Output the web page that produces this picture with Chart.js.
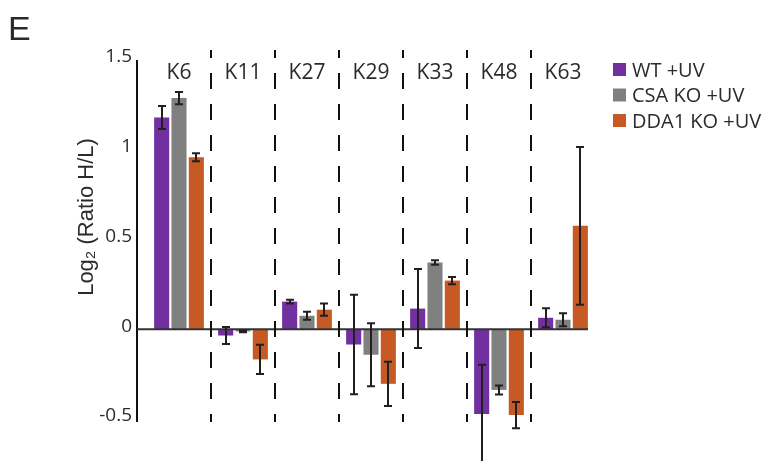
<!DOCTYPE html>
<html>
<head>
<meta charset="utf-8">
<script src="https://cdn.jsdelivr.net/npm/chart.js@4"></script>
<style>
  html, body { margin: 0; padding: 0; background: #fff; }
  #wrap { width: 771px; height: 461px; }
</style>
</head>
<body>
<div id="wrap"><canvas id="myBarChart"></canvas></div>
<script>
const sites = ['K6', 'K11', 'K27', 'K29', 'K33', 'K48', 'K63'];
const seriesNames = ['WT +UV', 'CSA KO +UV', 'DDA1 KO +UV'];
const seriesColors = ['#7030A0', '#808080', '#C55A24'];

const wtValues = [1.18, -0.035, 0.154, -0.085, 0.115, -0.472, 0.064];
const wtErrors = [0.064, 0.047, 0.010, 0.277, 0.220, 0.274, 0.053];
const csaValues = [1.288, -0.012, 0.075, -0.142, 0.372, -0.338, 0.053];
const csaErrors = [0.034, 0.005, 0.022, 0.176, 0.012, 0.025, 0.036];
const ddaValues = [0.958, -0.168, 0.109, -0.304, 0.271, -0.478, 0.576];
const ddaErrors = [0.022, 0.081, 0.034, 0.123, 0.020, 0.073, 0.440];

const yTicks = [-0.5, 0, 0.5, 1, 1.5];

const font = '"Open Sans", "Noto Sans", sans-serif';
const arial = '"Liberation Sans", Arial, sans-serif';
const textColor = '#2b2b2b';

const allValues = [wtValues, csaValues, ddaValues];
const allErrors = [wtErrors, csaErrors, ddaErrors];

// error bars, dividers, labels and legend drawn on top of the bars
const decorations = {
    id: 'decorations',
    afterDraw(chart) {
        const c = chart.ctx;
        const x = chart.scales.x;
        const y = chart.scales.y;
        const area = chart.chartArea;
        const axisX = area.left - 10;
        const y0 = y.getPixelForValue(0);

        c.save();

        // y axis line
        c.strokeStyle = '#111';
        c.lineWidth = 2;
        c.beginPath();
        c.moveTo(axisX, area.top);
        c.lineTo(axisX, area.bottom + 3);
        c.stroke();

        // zero line
        c.strokeStyle = '#333';
        c.beginPath();
        c.moveTo(axisX, y0);
        c.lineTo(area.right - 7, y0);
        c.stroke();

        // dashed dividers between sites
        c.strokeStyle = '#111';
        c.setLineDash([16, 15]);
        c.lineDashOffset = 8;
        for (let i = 0; i < sites.length - 1; i++) {
            const px = Math.round((x.getPixelForValue(i) + x.getPixelForValue(i + 1)) / 2);
            c.beginPath();
            c.moveTo(px, area.top - 10);
            c.lineTo(px, area.bottom + 3);
            c.stroke();
        }
        c.setLineDash([]);

        // error bars
        c.strokeStyle = '#231f20';
        c.lineWidth = 2;
        allValues.forEach((vals, d) => {
            const meta = chart.getDatasetMeta(d);
            meta.data.forEach((bar, i) => {
                const hi = y.getPixelForValue(vals[i] + allErrors[d][i]);
                const lo = y.getPixelForValue(vals[i] - allErrors[d][i]);
                const bx = Math.round(bar.x);
                c.beginPath();
                c.moveTo(bx, hi);
                c.lineTo(bx, lo);
                c.moveTo(bx - 4, hi);
                c.lineTo(bx + 4, hi);
                c.moveTo(bx - 4, lo);
                c.lineTo(bx + 4, lo);
                c.stroke();
            });
        });

        // site labels
        c.fillStyle = textColor;
        c.font = '21px ' + font;
        c.textAlign = 'center';
        c.textBaseline = 'middle';
        sites.forEach((s, i) => {
            c.fillText(s, x.getPixelForValue(i), area.top + 13);
        });

        // legend
        c.font = '20px ' + font;
        c.textAlign = 'left';
        seriesNames.forEach((name, i) => {
            const ly = 70 + i * 25.5;
            c.fillStyle = seriesColors[i];
            c.fillRect(613, ly - 7, 13, 13);
            c.fillStyle = textColor;
            c.fillText(name, 632, ly + 1);
        });

        // panel letter
        c.font = '34px ' + arial;
        c.textBaseline = 'alphabetic';
        c.fillText('E', 8, 40);

        // y axis title
        c.font = '22px ' + arial;
        c.translate(93, 217);
        c.rotate(-Math.PI / 2);
        c.textAlign = 'center';
        c.fillText('Log\u2082 (Ratio H/L)', 0, 0);

        c.restore();
    }
};

const ctx = document.getElementById('myBarChart').getContext('2d');
const myBarChart = new Chart(ctx, {
    type: 'bar',
    data: {
        labels: sites,
        datasets: allValues.map((vals, d) => ({
            label: seriesNames[d],
            data: vals,
            backgroundColor: seriesColors[d],
            borderWidth: 0,
            categoryPercentage: 0.8125,
            barPercentage: 0.87,
        }))
    },
    options: {
        responsive: true,
        maintainAspectRatio: false,
        animation: false,
        layout: {
            padding: { top: 60, bottom: 42, left: 0, right: 176 }
        },
        plugins: {
            legend: { display: false },
            tooltip: { enabled: false }
        },
        scales: {
            x: {
                afterFit(scale) { scale.height = 0; },
                grid: { display: false },
                border: { display: false },
                ticks: { display: false }
            },
            y: {
                min: -0.5,
                max: 1.5,
                afterFit(scale) { scale.width = 147; },
                afterBuildTicks(scale) { scale.ticks = yTicks.map(v => ({ value: v })); },
                grid: { display: false, drawTicks: false },
                border: { display: false },
                ticks: {
                    padding: 15,
                    labelOffset: -3,
                    color: textColor,
                    font: { family: font, size: 19 },
                    callback: (v) => String(v)
                }
            }
        }
    },
    plugins: [decorations]
});
</script>
</body>
</html>
